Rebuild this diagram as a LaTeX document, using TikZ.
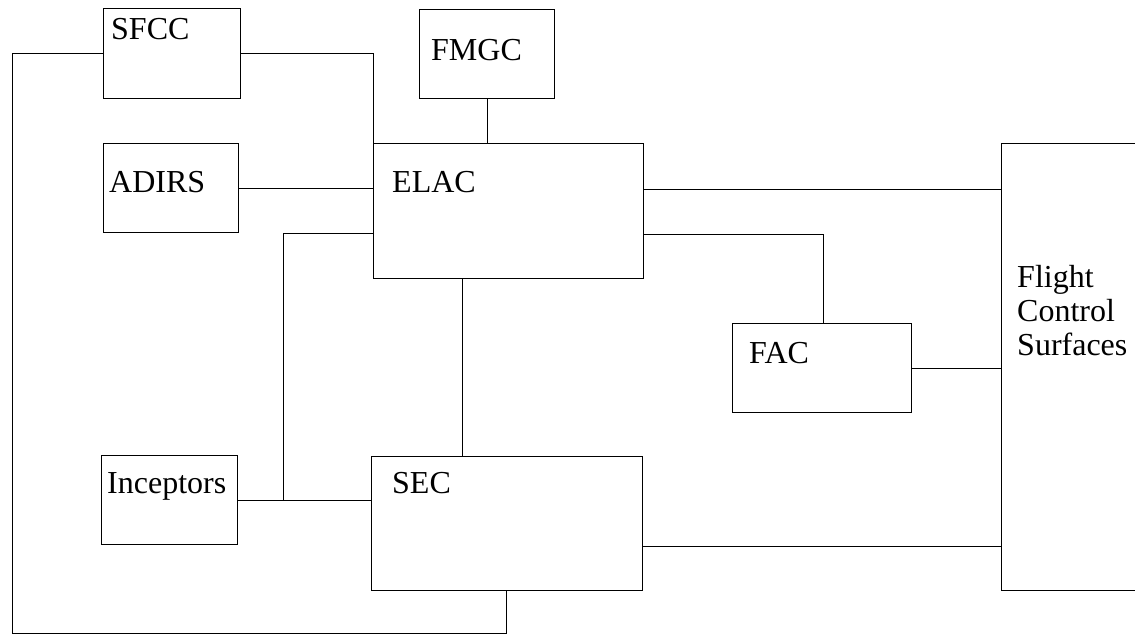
\documentclass[tikz,border=0pt]{standalone}
\usepackage{fontspec}
\setmainfont{Liberation Serif}
\begin{document}
\begin{tikzpicture}[x=1pt,y=-1pt,
  blk/.style={draw, line width=1.2pt, inner sep=0pt, anchor=north west},
  lbl/.style={anchor=base west, inner sep=0pt, font=\fontsize{32}{34}\selectfont},
  wire/.style={line width=0.9pt}]
\useasboundingbox (0,0) rectangle (1135,635);
\clip (0,0) rectangle (1135,635);

% computer boxes
\node[blk, minimum width=137pt, minimum height=90pt]  (sfcc)  at (103,8)   {};
\node[blk, minimum width=135pt, minimum height=89pt]  (fmgc)  at (419,9)   {};
\node[blk, minimum width=270pt, minimum height=135pt] (elac)  at (373,143) {};
\node[blk, minimum width=135pt, minimum height=89pt]  (adirs) at (103,143) {};
\node[blk, minimum width=150pt, minimum height=447pt] (fcs)   at (1001,143) {};
\node[blk, minimum width=179pt, minimum height=89pt]  (fac)   at (732,323) {};
\node[blk, minimum width=136pt, minimum height=89pt]  (inc)   at (101,455) {};
\node[blk, minimum width=271pt, minimum height=134pt] (sec)   at (371,456) {};

% box titles
\node[lbl] (tsfcc)  at (111,39)  {SFCC};
\node[lbl] (tfmgc)  at (431,60)  {FMGC};
\node[lbl] (telac)  at (392,192) {ELAC};
\node[lbl] (tadirs) at (109,192) {ADIRS};
\node[lbl] (tfac)   at (749,363) {FAC};
\node[lbl] (tinc)   at (107,493) {Inceptors};
\node[lbl] (tsec)   at (392,493) {SEC};
\node[lbl, anchor=north west, align=left] (tfcs) at (1017,265) {Flight\\Control\\Surfaces};

% routing points
\coordinate (lowleft) at (12,633);
\coordinate (secdrop) at (506,633);
\coordinate (j1) at (283,233);
\coordinate (x1) at (462,0);
\coordinate (y1) at (0,189);
\coordinate (k)  at (823,234);
\coordinate (y2) at (0,546);

% connections
\draw[wire] (sfcc.west) -| (lowleft) -- (secdrop) -- (secdrop |- sec.south);
\draw[wire] (sfcc.east) -| (elac.north west);
\draw[wire] (fmgc.south) -- (fmgc.south |- elac.north);
\draw[wire] (adirs.east) -- (adirs.east -| elac.west);
\draw[wire] (j1 -| elac.west) -- (j1) -- (j1 |- inc.east);
\draw[wire] (inc.east) -- (inc.east -| sec.west);
\draw[wire] (elac.south -| x1) -- (sec.north -| x1);
\draw[wire] (elac.east |- y1) -- (fcs.west |- y1);
\draw[wire] (elac.east |- k) -| (fac.north -| k);
\draw[wire] (fac.east) -- (fac.east -| fcs.west);
\draw[wire] (sec.east |- y2) -- (fcs.west |- y2);
\end{tikzpicture}
\end{document}
